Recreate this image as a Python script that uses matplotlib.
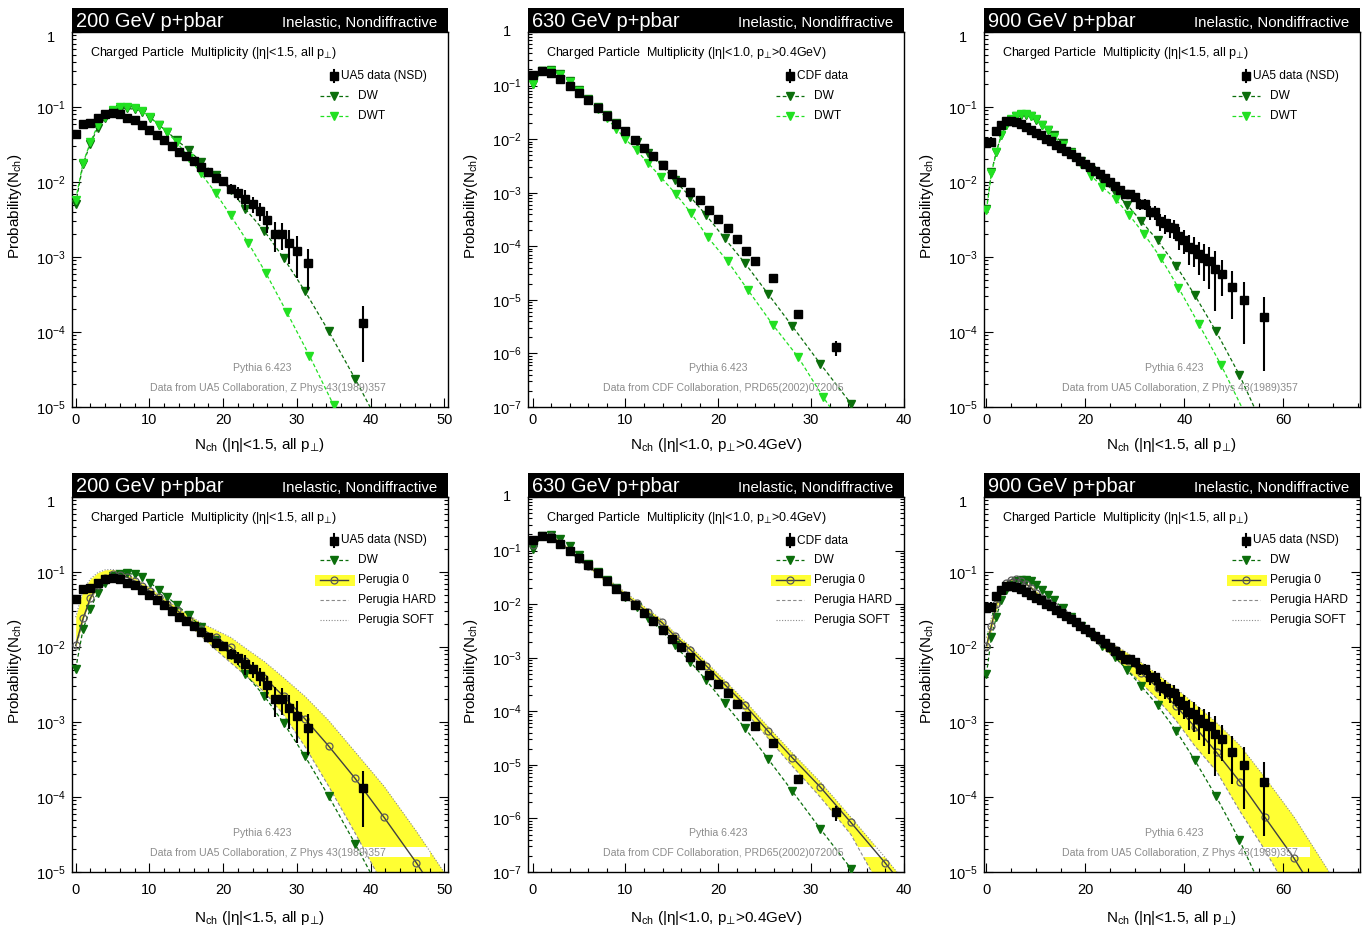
import numpy as np
import matplotlib
matplotlib.use("Agg")
import matplotlib.pyplot as plt
from matplotlib.patches import Rectangle
from matplotlib.ticker import (FixedLocator, MultipleLocator, LogLocator,
                               FuncFormatter, NullFormatter)

plt.rcParams["font.family"] = ["Liberation Sans", "DejaVu Sans"]
plt.rcParams["mathtext.fontset"] = "custom"
plt.rcParams["mathtext.rm"] = "Liberation Sans"
plt.rcParams["mathtext.it"] = "Liberation Sans:italic"
plt.rcParams["mathtext.bf"] = "Liberation Sans:bold"
plt.rcParams["mathtext.sf"] = "DejaVu Sans"
plt.rcParams["mathtext.fallback"] = "stixsans"

# ---------------------------------------------------------------- 200 GeV
nch_ua5_200 = list(range(31)) + [31.5, 39]
ua5_200 = [0.044, 0.059, 0.062, 0.071, 0.080, 0.082, 0.080, 0.072, 0.0665, 0.058,
           0.0495, 0.042, 0.036, 0.030, 0.0255, 0.0219, 0.0188, 0.016, 0.0136, 0.0114,
           0.0102, 0.0081, 0.0071, 0.0060, 0.0051, 0.0041, 0.0031, 0.00205, 0.00205, 0.00155,
           0.00122, 0.00082, 0.00013]
ua5_200_err = [0.004, 0.002, 0.002, 0.002, 0.002, 0.002, 0.002, 0.002, 0.002, 0.0015,
               0.0013, 0.0012, 0.001, 0.0009, 0.0008, 0.0008, 0.0007, 0.0007, 0.0008, 0.0012,
               0.0011, 0.0012, 0.0014, 0.0018, 0.0012, 0.0011, 0.0010, 0.0009, 0.0008, 0.00075,
               0.0007, 0.00046, 0.00009]

nch_dw_200 = [0, 1, 2, 3, 4, 5, 6, 7, 8, 9, 10.1, 11.3, 12.4, 13.7, 15.4, 17, 19, 21, 23,
              25.6, 28.2, 31.1, 34.3, 37.9, 41.8]
dw_200 = [0.0051, 0.0173, 0.0326, 0.0532, 0.0708, 0.0885, 0.093, 0.096, 0.093, 0.0867,
          0.072, 0.0577, 0.047, 0.0361, 0.0265, 0.0184, 0.0125, 0.0079, 0.00438, 0.00221,
          9.7e-4, 3.5e-4, 1.03e-4, 2.38e-5, 4.5e-6]

nch_dwt_200 = [0, 1, 2, 3, 4, 5, 6, 7, 8, 9, 10.1, 11.3, 12.4, 13.7, 15.4, 17, 19, 21,
               23.4, 25.8, 28.6, 31.7, 35, 38.8]
dwt_200 = [0.0058, 0.018, 0.034, 0.057, 0.074, 0.091, 0.1, 0.1, 0.097, 0.088,
           0.073, 0.058, 0.046, 0.034, 0.021, 0.013, 0.0071, 0.0036, 0.00155, 6.1e-4,
           1.86e-4, 4.85e-5, 1.05e-5, 1.6e-6]

nch_p0_200 = [0, 1, 2, 3, 4, 5, 6, 7, 8, 9, 10.1, 11.3, 12.4, 13.7, 15.4, 17, 19, 21, 23,
              25.6, 28.2, 31.1, 34.3, 37.9, 41.8, 46.2, 51]
p0_200 = [0.0105, 0.024, 0.045, 0.067, 0.082, 0.093, 0.092, 0.085, 0.075, 0.065,
          0.055, 0.046, 0.038, 0.031, 0.023, 0.0175, 0.0135, 0.0100, 0.0066, 0.0039,
          0.0022, 0.0011, 4.8e-4, 1.77e-4, 5.4e-5, 1.33e-5, 2.5e-6]
soft_200 = [0.025, 0.057, 0.081, 0.098, 0.107, 0.108, 0.103, 0.094, 0.083, 0.072,
            0.061, 0.050, 0.042, 0.034, 0.0265, 0.021, 0.0168, 0.0135, 0.0097, 0.0064,
            0.0039, 0.0022, 1.05e-3, 4.0e-4, 1.4e-4, 3.5e-5, 7e-6]
hard_200 = [0.0095, 0.023, 0.043, 0.062, 0.076, 0.085, 0.088, 0.085, 0.077, 0.067,
            0.056, 0.045, 0.036, 0.028, 0.0195, 0.014, 0.0092, 0.0062, 0.0042, 0.0025,
            1.25e-3, 4.7e-4, 1.4e-4, 3.3e-5, 6.5e-6, 1e-6, 1.2e-7]

# ---------------------------------------------------------------- 630 GeV
nch_cdf_630 = list(range(25)) + [25.9, 28.6, 32.7]
cdf_630 = [0.158, 0.19, 0.172, 0.133, 0.0986, 0.072, 0.054, 0.0384, 0.0272, 0.0193,
           0.0139, 0.00975, 0.0069, 0.00484, 0.00329, 0.00227, 0.00156, 0.00103, 7.2e-4, 4.72e-4,
           3.25e-4, 2.18e-4, 1.38e-4, 8.25e-5, 5.38e-5, 2.6e-5, 5.47e-6, 1.31e-6]
cdf_630_err = [0.006, 0.006, 0.005, 0.004, 0.003, 0.002, 0.0015, 0.001, 7e-4, 5e-4,
               4e-4, 3e-4, 2e-4, 1.5e-4, 1e-4, 7e-5, 5e-5, 4e-5, 3e-5, 2e-5,
               1.5e-5, 1e-5, 8e-6, 1.3e-5, 9e-6, 3e-6, 1e-6, 4e-7]

nch_dw_630 = [0, 1, 2, 3, 4, 5, 6, 7, 8, 9, 10, 11.2, 12.4, 13.9, 15.3, 17, 18.7, 20.7,
              22.9, 25.4, 28.0, 31.0, 34.3, 38.0]
dw_630 = [0.107, 0.19, 0.196, 0.165, 0.124, 0.083, 0.057, 0.040, 0.0284, 0.0200, 0.0135,
          0.0088, 0.0055, 0.00324, 0.0017, 8.35e-4, 3.81e-4, 1.4e-4, 4.8e-5, 1.27e-5,
          3.2e-6, 6.4e-7, 1.16e-7, 1.6e-8]

nch_dwt_630 = [0, 1, 2, 3, 4, 5, 6, 7, 8, 9, 10, 11.2, 12.4, 13.8, 15.4, 17.1, 18.9, 21,
               23.2, 25.9, 28.6, 31.3, 34.8]
dwt_630 = [0.105, 0.19, 0.19, 0.16, 0.118, 0.08, 0.054, 0.036, 0.0245, 0.0158, 0.0100,
           0.0062, 0.00364, 0.00197, 9.6e-4, 4.1e-4, 1.46e-4, 5.3e-5, 1.53e-5, 3.4e-6,
           8.6e-7, 1.54e-7, 2e-8]

nch_p0_630 = [0, 1, 2, 3, 4, 5, 6, 7, 8, 9, 10, 11.2, 12.4, 13.9, 15.3, 17, 18.7, 20.7,
              22.9, 25.4, 28.0, 31.0, 34.3, 38.0, 42.0]
p0_630 = [0.129, 0.188, 0.185, 0.14, 0.099, 0.07, 0.051, 0.0375, 0.027, 0.0204, 0.0147,
          0.0103, 0.0070, 0.00457, 0.00255, 0.00141, 7.1e-4, 3.16e-4, 1.29e-4, 4.2e-5,
          1.35e-5, 3.85e-6, 8.4e-7, 1.47e-7, 2e-8]
soft_630 = [0.14, 0.2, 0.195, 0.15, 0.106, 0.076, 0.056, 0.041, 0.030, 0.0226, 0.0164,
            0.0116, 0.0080, 0.0052, 0.0029, 0.00163, 8.3e-4, 3.75e-4, 1.55e-4, 5.1e-5,
            1.66e-5, 4.8e-6, 1.05e-6, 1.85e-7, 2.6e-8]
hard_630 = [0.12, 0.178, 0.178, 0.134, 0.094, 0.066, 0.048, 0.035, 0.0252, 0.0188, 0.0134,
            0.0093, 0.0062, 0.0040, 0.0022, 0.00119, 5.9e-4, 2.55e-4, 1.0e-4, 3.1e-5,
            9.4e-6, 2.5e-6, 5.0e-7, 3.5e-8, 3e-9]

# ---------------------------------------------------------------- 900 GeV
nch_ua5_900 = list(range(46)) + [46.2, 47.6, 49.6, 52, 56]
ua5_900 = [0.0336, 0.0346, 0.048, 0.0577, 0.0652, 0.066, 0.063, 0.0589, 0.0543, 0.049,
           0.0456, 0.042, 0.038, 0.0347, 0.0313, 0.0283, 0.026, 0.0235, 0.0217, 0.0192,
           0.0173, 0.016, 0.0141, 0.0128, 0.0113, 0.0099, 0.0089, 0.00783, 0.0070, 0.0070,
           0.0063, 0.0051, 0.0051, 0.00395, 0.00395, 0.0030, 0.0028, 0.0025, 0.00245, 0.0019,
           0.0017, 0.00138, 0.00129, 0.00108, 0.00098, 0.00088,
           6.9e-4, 6.0e-4, 4.0e-4, 2.7e-4, 1.6e-4]
ua5_900_err = [0.005, 0.005, 0.003, 0.002, 0.002, 0.002, 0.002, 0.002, 0.0015, 0.0015,
               0.0013, 0.0012, 0.0011, 0.001, 0.001, 0.0009, 0.0009, 0.0008, 0.0008, 0.0008,
               0.0008, 0.0008, 0.0008, 0.0008, 0.0008, 0.0008, 0.0008, 0.0008, 0.0008, 0.0008,
               0.0008, 0.0009, 0.0009, 0.0008, 0.0008, 0.0008, 0.0008, 0.0007, 0.0007, 0.00065,
               0.0006, 0.0006, 0.00055, 0.0005, 0.0005, 0.0005,
               0.0005, 0.0003, 0.00025, 0.0002, 0.00013]

nch_dw_900 = [0, 1, 2, 3, 4, 5, 6, 7, 8, 9, 10, 11.3, 12.4, 13.7, 15.4, 17.1, 19.1, 21.1,
              23.4, 25.9, 28.5, 31.3, 34.6, 38.3, 42.1, 46.4, 51.1, 56.2]
dw_900 = [0.0044, 0.0134, 0.0255, 0.042, 0.057, 0.068, 0.075, 0.079, 0.079, 0.075, 0.068,
          0.058, 0.05, 0.042, 0.033, 0.0255, 0.0192, 0.0143, 0.0104, 0.0074, 0.0049,
          0.0030, 0.00166, 7.7e-4, 3.1e-4, 1.02e-4, 2.7e-5, 5e-6]

nch_dwt_900 = [0, 1, 2, 3, 4, 5, 6, 7, 8, 9, 10, 11.3, 12.4, 13.7, 15.4, 17.1, 19.1, 21.1,
               23.4, 26.1, 28.9, 31.9, 35.2, 38.8, 42.9, 47.4, 52.3]
dwt_900 = [0.0042, 0.013, 0.025, 0.042, 0.058, 0.07, 0.077, 0.08, 0.08, 0.076, 0.069,
           0.058, 0.049, 0.040, 0.031, 0.024, 0.0175, 0.0122, 0.0087, 0.0059, 0.0036,
           0.0020, 9.8e-4, 3.9e-4, 1.28e-4, 3.65e-5, 8e-6]

nch_p0_900 = [0, 1, 2, 3, 4, 5, 6, 7, 8, 9, 10, 11.3, 12.4, 13.7, 15.4, 17.1, 19.1, 21.1,
              23.4, 26.1, 28.7, 31.3, 34.6, 38.3, 42.1, 46.5, 51.2, 56.2, 62.1, 68.5, 75.0]
p0_900 = [0.0104, 0.0192, 0.037, 0.0575, 0.0706, 0.079, 0.08, 0.076, 0.069, 0.062, 0.052,
          0.045, 0.040, 0.035, 0.029, 0.024, 0.019, 0.0153, 0.0118, 0.0091, 0.0066,
          0.00446, 0.00287, 0.00163, 8.65e-4, 3.94e-4, 1.6e-4, 5.46e-5, 1.55e-5, 3.2e-6, 5e-7]
soft_900 = [0.0133, 0.0244, 0.045, 0.065, 0.076, 0.082, 0.083, 0.079, 0.072, 0.065, 0.056,
            0.048, 0.042, 0.037, 0.031, 0.026, 0.0208, 0.0168, 0.0135, 0.0104, 0.0082,
            0.0062, 0.0043, 0.0028, 0.00175, 9.8e-4, 4.9e-4, 1.85e-4, 5.5e-5, 1.2e-5, 2.5e-6]
hard_900 = [0.0087, 0.017, 0.031, 0.05, 0.064, 0.074, 0.077, 0.074, 0.067, 0.06, 0.05,
            0.043, 0.038, 0.033, 0.027, 0.0218, 0.0170, 0.0132, 0.0098, 0.0070, 0.0048,
            0.0033, 0.0020, 0.00105, 4.8e-4, 2.2e-4, 6.5e-5, 2.0e-5, 4.2e-6, 8e-7, 1e-7]

# ---------------------------------------------------------------- text
PT = r"p$_{\mathsf{⊥}}$"
LBL_15 = "(|η|<1.5, all " + PT + ")"
LBL_10 = "(|η|<1.0, " + PT + ">0.4GeV)"
REF_UA5 = "Data from UA5 Collaboration, Z Phys 43(1989)357"
REF_CDF = "Data from CDF Collaboration, PRD65(2002)072005"

YELLOW = "#ffff33"
DW_C = "#0b6e0b"
DWT_C = "#22e022"
GREY_TXT = "#8c8c8c"
P0_LINE = "#404040"
P0_EDGE = "#5a5a5a"
VAR_C = "#8a8a8a"

panels = [
    dict(title="200 GeV p+pbar", xlim=(-0.5, 50.5), ymin=1e-5, xmaj=10, xmin=2,
         sel=LBL_15, data_label="UA5 data (NSD)", ref=REF_UA5, one_shift=6,
         data=(nch_ua5_200, ua5_200, ua5_200_err),
         dw=(nch_dw_200, dw_200), dwt=(nch_dwt_200, dwt_200),
         p0=(nch_p0_200, p0_200, hard_200, soft_200), box_right=0.952),
    dict(title="630 GeV p+pbar", xlim=(-0.5, 40.02), ymin=1e-7, xmaj=10, xmin=2,
         sel=LBL_10, data_label="CDF data", ref=REF_CDF, one_shift=0,
         data=(nch_cdf_630, cdf_630, cdf_630_err),
         dw=(nch_dw_630, dw_630), dwt=(nch_dwt_630, dwt_630),
         p0=(nch_p0_630, p0_630, hard_630, soft_630), box_right=0.95),
    dict(title="900 GeV p+pbar", xlim=(-0.5, 75.5), ymin=1e-5, xmaj=20, xmin=5,
         sel=LBL_15, data_label="UA5 data (NSD)", ref=REF_UA5, one_shift=6,
         data=(nch_ua5_900, ua5_900, ua5_900_err),
         dw=(nch_dw_900, dw_900), dwt=(nch_dwt_900, dwt_900),
         p0=(nch_p0_900, p0_900, hard_900, soft_900), box_right=0.867),
]

FW, FH = 1369, 931
fig = plt.figure(figsize=(FW / 100, FH / 100), dpi=100)
fig.patch.set_facecolor("white")

lefts = [72, 528, 984]
AX_W, AX_H = 376, 375


def decade_label(v, pos):
    if v > 0.5:
        return ""
    return r"$\mathregular{10^{%d}}$" % int(round(np.log10(v)))


def style_axes(ax, cfg, lower):
    ax.set_yscale("log")
    ax.set_xlim(*cfg["xlim"])
    ax.set_ylim(cfg["ymin"], 1.0)
    ax.xaxis.set_major_locator(MultipleLocator(cfg["xmaj"]))
    ax.xaxis.set_minor_locator(MultipleLocator(cfg["xmin"]))
    dec = 10.0 ** np.arange(int(round(np.log10(cfg["ymin"]))), 1)
    ax.yaxis.set_major_locator(FixedLocator(dec))
    ax.yaxis.set_minor_locator(LogLocator(base=10, subs=np.arange(2, 10), numticks=60))
    ax.yaxis.set_minor_formatter(NullFormatter())
    ax.yaxis.set_major_formatter(FuncFormatter(decade_label))
    ax.tick_params(which="both", direction="in", top=False, right=lower,
                   width=0.8, color="black")
    ax.tick_params(which="major", length=6.5)
    ax.tick_params(which="minor", length=3.2)
    ax.tick_params(axis="y", which="major", pad=15, labelsize=10.5)
    ax.tick_params(axis="x", which="major", pad=8 if lower else 4.5, labelsize=10.5)
    for lab in ax.get_yticklabels():
        lab.set_ha("center")
    for s in ax.spines.values():
        s.set_linewidth(1.0)

    # the "1" label of the top decade
    ax.annotate("1", xy=(0, 1.0), xycoords=("axes fraction", "data"),
                xytext=(-21, -cfg["one_shift"]), textcoords="offset pixels",
                ha="center", va="center", fontsize=10.5)

    ax.set_xlabel(r"N$_{\rm ch}$ " + cfg["sel"], fontsize=11)
    ax.xaxis.set_label_coords(0.5, -0.123 if lower else -0.101)
    ax.xaxis.label.set_va("center")
    ax.set_ylabel(r"Probability(N$_{\rm ch}$)", fontsize=11)
    ax.yaxis.set_label_coords(-0.152, 0.536)
    ax.yaxis.label.set_va("center")

    # black title bar
    bar_h = 24.5 / AX_H
    ax.add_patch(Rectangle((0, 1), 1, bar_h, transform=ax.transAxes, clip_on=False,
                           facecolor="black", edgecolor="none", zorder=10))
    ax.text(0.011, 1 + 5 / AX_H, cfg["title"], transform=ax.transAxes, color="white",
            fontsize=14.4, ha="left", va="baseline", zorder=11)
    ax.text(0.971, 1 + 5 / AX_H, "Inelastic, Nondiffractive", transform=ax.transAxes,
            color="white", fontsize=10.8, ha="right", va="baseline", zorder=11)

    ax.text(0.048, 0.937, "Charged Particle  Multiplicity " + cfg["sel"],
            transform=ax.transAxes, fontsize=9.0, ha="left", va="baseline", zorder=8)
    ax.text(0.505, 0.096, "Pythia 6.423", transform=ax.transAxes, color=GREY_TXT,
            fontsize=7.6, ha="center", va="baseline", zorder=8)
    ax.text(0.52, 0.043, cfg["ref"], transform=ax.transAxes, color=GREY_TXT,
            fontsize=7.6, ha="center", va="baseline", zorder=8)


def legend_entries(ax, cfg, lower):
    tr = ax.transAxes
    ys = [0.884, 0.831, 0.778, 0.725, 0.672] if lower else [0.883, 0.829, 0.776]
    xm, x0, x1, xt = 0.697, 0.66, 0.735, 0.761
    fs = 8.6
    # data entry
    ax.plot([xm, xm], [ys[0] - 0.017, ys[0] + 0.017], color="black", lw=1.5,
            transform=tr, clip_on=False, zorder=9)
    ax.plot([xm], [ys[0]], "s", color="black", ms=5.8, transform=tr, clip_on=False, zorder=9)
    ax.text(0.716, ys[0], cfg["data_label"], transform=tr, fontsize=fs, va="center", zorder=9)
    # DW
    ax.plot([x0, x1], [ys[1]] * 2, ls=(0, (3, 2)), lw=0.9, color=DW_C, transform=tr,
            clip_on=False, zorder=9)
    ax.plot([xm], [ys[1]], "v", color=DW_C, ms=5.5, transform=tr, clip_on=False, zorder=9)
    ax.text(xt, ys[1], "DW", transform=tr, fontsize=fs, va="center", zorder=9)
    if not lower:
        ax.plot([x0, x1], [ys[2]] * 2, ls=(0, (3, 2)), lw=0.9, color=DWT_C, transform=tr,
                clip_on=False, zorder=9)
        ax.plot([xm], [ys[2]], "v", color=DWT_C, ms=5.5, transform=tr, clip_on=False, zorder=9)
        ax.text(xt, ys[2], "DWT", transform=tr, fontsize=fs, va="center", zorder=9)
        return
    ax.add_patch(Rectangle((0.646, ys[2] - 0.0147), 0.107, 0.0294, transform=tr,
                           facecolor=YELLOW, edgecolor="none", zorder=8))
    ax.plot([x0, x1], [ys[2]] * 2, "-", lw=1.0, color=P0_LINE, transform=tr,
            clip_on=False, zorder=9)
    ax.plot([xm], [ys[2]], "o", ms=5, mfc="none", mec=P0_EDGE, mew=0.9, transform=tr,
            clip_on=False, zorder=9)
    ax.text(xt, ys[2], "Perugia 0", transform=tr, fontsize=fs, va="center", zorder=9)
    ax.plot([x0, x1], [ys[3]] * 2, ls=(0, (3, 2)), lw=0.8, color=VAR_C, transform=tr,
            clip_on=False, zorder=9)
    ax.text(xt, ys[3], "Perugia HARD", transform=tr, fontsize=fs, va="center", zorder=9)
    ax.plot([x0, x1], [ys[4]] * 2, ls=(0, (1, 1.5)), lw=0.8, color=VAR_C, transform=tr,
            clip_on=False, zorder=9)
    ax.text(xt, ys[4], "Perugia SOFT", transform=tr, fontsize=fs, va="center", zorder=9)


for row, lower in enumerate([False, True]):
    top_px = 32 if not lower else 497
    for col, cfg in enumerate(panels):
        ax = fig.add_axes([lefts[col] / FW, 1 - (top_px + AX_H) / FH, AX_W / FW, AX_H / FH])
        style_axes(ax, cfg, lower)

        n_d, p_d, e_d = cfg["data"]
        n_w, p_w = cfg["dw"]
        if lower:
            n_p, p_p, p_hard, p_soft = cfg["p0"]
            lo = np.minimum(p_hard, p_soft)
            hi = np.maximum(p_hard, p_soft)
            ax.fill_between(n_p, lo, hi, color=YELLOW, lw=0, zorder=1)
            ax.add_patch(Rectangle((0.19, 0.039), cfg["box_right"] - 0.19, 0.0285,
                                   transform=ax.transAxes, facecolor="white",
                                   edgecolor="none", zorder=2))
            ax.plot(n_p, p_hard, ls=(0, (3, 2)), lw=0.8, color=VAR_C, zorder=3)
            ax.plot(n_p, p_soft, ls=(0, (1, 1.5)), lw=0.8, color=VAR_C, zorder=3)
            ax.plot(n_w, p_w, ls=(0, (3, 2)), lw=0.9, color=DW_C, marker="v", ms=5.5,
                    mfc=DW_C, mec=DW_C, zorder=4)
            ax.plot(n_p, p_p, "-", lw=1.0, color=P0_LINE, marker="o", ms=5, mfc="none",
                    mec=P0_EDGE, mew=0.9, zorder=5)
        else:
            n_t, p_t = cfg["dwt"]
            ax.plot(n_w, p_w, ls=(0, (3, 2)), lw=0.9, color=DW_C, marker="v", ms=5.5,
                    mfc=DW_C, mec=DW_C, zorder=4)
            ax.plot(n_t, p_t, ls=(0, (3, 2)), lw=0.9, color=DWT_C, marker="v", ms=5.5,
                    mfc=DWT_C, mec=DWT_C, zorder=4)
        ax.errorbar(n_d, p_d, yerr=e_d, fmt="s", ms=5.8, color="black", ecolor="black",
                    elinewidth=1.5, capsize=0, zorder=6)
        legend_entries(ax, cfg, lower)

fig.savefig("out.png", dpi=100, facecolor="white")
